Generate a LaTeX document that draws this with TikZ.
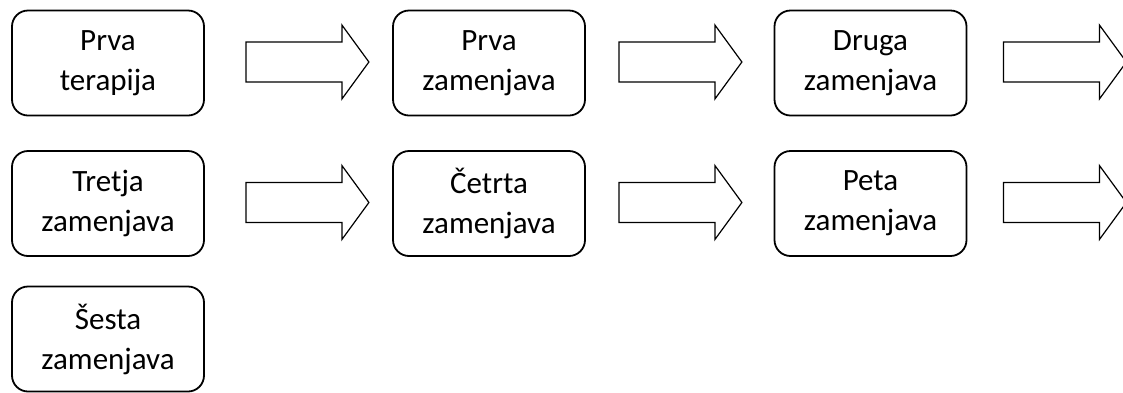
\documentclass[tikz,border=0pt]{standalone}
\usepackage{fontspec}
\setmainfont{Carlito}
\usetikzlibrary{calc}
\tikzset{
  stepbox/.style={draw, line width=1.8pt, rounded corners=16pt,
    minimum width=192pt, minimum height=105pt, align=center,
    inner sep=0pt, font=\fontsize{31}{40}\selectfont},
  arrowline/.style={draw, line width=1.2pt, line join=miter},
  blockarrow/.pic={
    \draw[arrowline] (0,-20) -- (96,-20) -- (96,-37) -- (123,0)
      -- (96,37) -- (96,20) -- (0,20) -- cycle;
  }
}
\begin{document}
\begin{tikzpicture}[x=1pt,y=-1pt]
\useasboundingbox (0,0) rectangle (1123,392);
\clip (0,0) rectangle (1123,392);

% steps of the therapy sequence
\node[stepbox] (b1) at (108,63)    {Prva\\terapija};
\node[stepbox] (b2) at (489,63)    {Prva\\zamenjava};
\node[stepbox] (b3) at (870.5,63)  {Druga\\zamenjava};
\node[stepbox] (b4) at (108,203.5) {Tretja\\zamenjava};
\node[stepbox] (b5) at (489,203.5) {Četrta\\zamenjava};
\node[stepbox] (b6) at (870.5,203.5) {Peta\\zamenjava};
\node[stepbox] (b7) at (108,339)   {Šesta\\zamenjava};

% block arrows after each step box
\pic at ($(b1.east)+(41,-1)$) {blockarrow};
\pic at ($(b2.east)+(33,-1)$) {blockarrow};
\pic at ($(b3.east)+(36,-1)$) {blockarrow};
\pic at ($(b4.east)+(41,-1)$) {blockarrow};
\pic at ($(b5.east)+(33,-1)$) {blockarrow};
\pic at ($(b6.east)+(36,-1)$) {blockarrow};
\end{tikzpicture}
\end{document}
